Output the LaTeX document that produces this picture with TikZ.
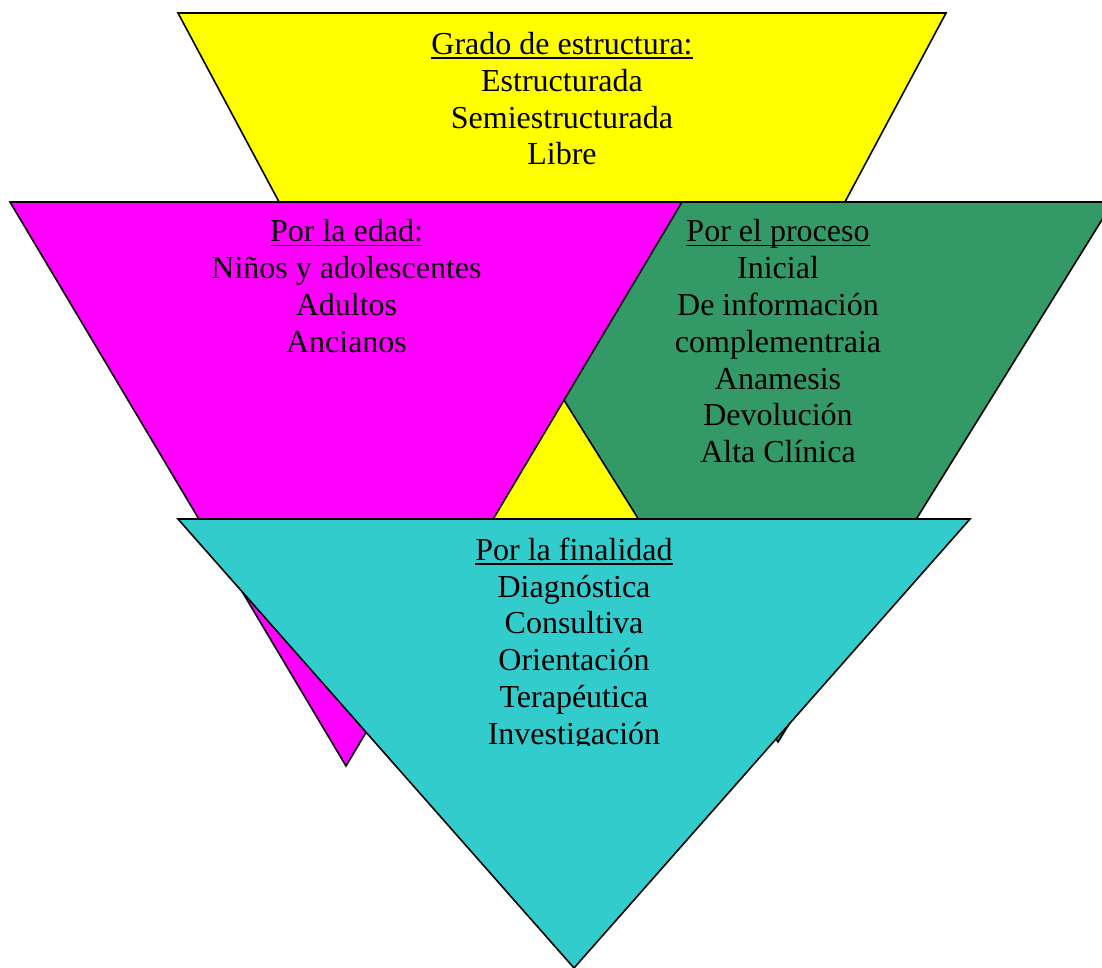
\documentclass[tikz,border=0pt]{standalone}
\usepackage{fontspec}
\setmainfont{Liberation Serif}
\definecolor{seagreen}{RGB}{51,153,102}
\definecolor{turq}{RGB}{51,204,204}
\definecolor{magentab}{RGB}{255,0,255}
\definecolor{yellowb}{RGB}{255,255,0}
% heading underline at a fixed depth below the baseline
\newcommand\headline[1]{\leavevmode\setbox0\hbox{#1}\rlap{\rule[-4.5pt]{\wd0}{1.6pt}}\box0}
\begin{document}
\begin{tikzpicture}[x=1pt,y=-1pt,
  face/.style={draw=black,line width=1.6pt,line join=miter},
  blocktext/.style={align=center,inner sep=0pt,anchor=north,
    font=\fontsize{32}{36.8}\selectfont}]
\useasboundingbox (0,0) rectangle (1102,967);
\clip (0,0) rectangle (1102,967);

% corners of the four inverted triangles
\coordinate (yl) at (178,13);  \coordinate (yr) at (946,13);  \coordinate (ya) at (562,731);
\coordinate (gl) at (440,202); \coordinate (gr) at (1113,202); \coordinate (ga) at (778,742);
\coordinate (ml) at (10,202);  \coordinate (mr) at (682,202);  \coordinate (ma) at (346,766);
\coordinate (cl) at (178,519); \coordinate (cr) at (970,519);  \coordinate (ca) at (574,968);

% back to front
\path[face,fill=yellowb]  (yl) -- (yr) -- (ya) -- cycle;
\path[face,fill=seagreen] (gl) -- (gr) -- (ga) -- cycle;
\path[face,fill=magentab] (ml) -- (mr) -- (ma) -- cycle;
\path[face,fill=turq]     (cl) -- (cr) -- (ca) -- cycle;

\node[blocktext] (estructura) at (562,32)
  {\headline{Grado de estructura:}\\Estructurada\\Semiestructurada\\Libre};
\node[blocktext] (edad) at (346.5,219.5)
  {\headline{Por la edad:}\\Niños y adolescentes\\Adultos\\Ancianos};
\node[blocktext] (proceso) at (778,219.5)
  {\headline{Por el proceso}\\Inicial\\De información\\complementraia\\Anamesis\\Devolución\\Alta Clínica};
\begin{scope}
  \clip (0,0) rectangle (1102,745);
  \node[blocktext] (finalidad) at (574,537.5)
    {\headline{Por la finalidad}\\Diagnóstica\\Consultiva\\Orientación\\Terapéutica\\Investigación};
\end{scope}
\end{tikzpicture}
\end{document}
